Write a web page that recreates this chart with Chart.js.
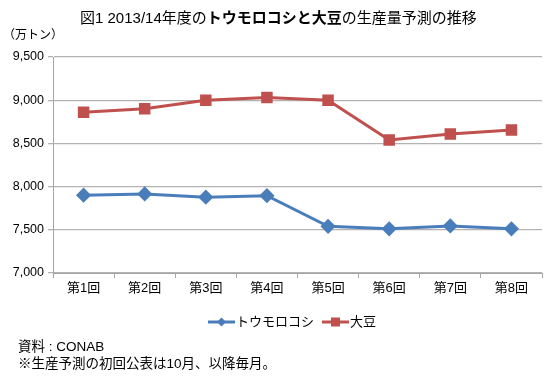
<!DOCTYPE html>
<html><head><meta charset="utf-8">
<script src="https://cdn.jsdelivr.net/npm/chart.js@4/dist/chart.umd.min.js"></script>
<style>
html,body{margin:0;padding:0;background:#fff;width:557px;height:378px;overflow:hidden;font-family:"Liberation Sans","Noto Sans CJK JP",sans-serif;color:#000}
#wrap{position:absolute;left:0;top:0;width:557px;height:378px}
.t{position:absolute;white-space:nowrap}
</style></head><body>
<div id="wrap"><canvas id="c" width="557" height="378"></canvas></div>
<div class="t" id="title" style="left:80px;top:6px;font-size:15px;">図1 2013/14年度の<b>トウモロコシと大豆</b>の生産量予測の推移</div>
<div class="t" style="left:3px;top:25px;font-size:12px;">（万トン）</div>
<div class="t" style="left:18px;top:335px;font-size:13.5px;">資料 : CONAB</div>
<div class="t" style="left:18px;top:352px;font-size:13.5px;">※生産予測の初回公表は10月、以降毎月。</div>
<script>
const categories = ["第1回","第2回","第3回","第4回","第5回","第6回","第7回","第8回"];
const seriesNames = ["トウモロコシ","大豆"];
const corn = [7900, 7915, 7877, 7895, 7540, 7512, 7545, 7512];
const soy = [8860, 8900, 9000, 9030, 9000, 8540, 8610, 8655];
const yTicks = [7000, 7500, 8000, 8500, 9000, 9500];

const FONT = '"Liberation Sans", "Noto Sans CJK JP", sans-serif';
const legendPlugin = {
  id: 'customLegend',
  afterDraw(chart) {
    const ctx = chart.ctx;
    ctx.save();
    ctx.font = '13px ' + FONT;
    ctx.textBaseline = 'middle';
    const y = 322;
    const items = [{x:208}, {x:322}];
    chart.data.datasets.forEach((ds, i) => {
      const x = items[i].x;
      ctx.strokeStyle = ds.borderColor;
      ctx.lineWidth = 3;
      ctx.beginPath(); ctx.moveTo(x, y); ctx.lineTo(x + 27, y); ctx.stroke();
      ctx.fillStyle = ds.borderColor;
      const cx = x + 13.5;
      if (ds.pointStyle === 'rectRot') {
        ctx.beginPath(); ctx.moveTo(cx, y-4.5); ctx.lineTo(cx+4.5, y); ctx.lineTo(cx, y+4.5); ctx.lineTo(cx-4.5, y); ctx.closePath(); ctx.fill();
      } else {
        ctx.fillRect(cx-4.5, y-4.5, 9, 9);
      }
      ctx.fillStyle = '#000';
      ctx.fillText(ds.label, x + 28, y);
    });
    ctx.restore();
  }
};

new Chart(document.getElementById('c'), {
  type: 'line',
  data: {
    labels: categories,
    datasets: [
      {label: seriesNames[0], data: corn, borderColor: '#4a7ebb', backgroundColor: '#4a7ebb', borderWidth: 3,
       pointStyle: 'rectRot', pointRadius: 5.5, pointHoverRadius: 5.5, tension: 0},
      {label: seriesNames[1], data: soy, borderColor: '#c0504d', backgroundColor: '#c0504d', borderWidth: 3,
       pointStyle: 'rect', pointRadius: 6, pointHoverRadius: 6, tension: 0}
    ]
  },
  plugins: [legendPlugin],
  options: {
    responsive: false, animation: false,
    layout: {padding: {left: 0, right: 15, top: 57, bottom: 0}},
    plugins: {legend: {display: false}, title: {display: false}, tooltip: {enabled: false}},
    scales: {
      x: {
        offset: true,
        grid: {offset: true, drawOnChartArea: false, drawTicks: true, tickLength: 5, color: '#a6a6a6'},
        border: {color: '#a6a6a6', width: 1},
        ticks: {color: '#000', font: {family: FONT, size: 13}, padding: 3, maxRotation: 0},
        afterFit(s) { s.height = 105; }
      },
      y: {
        min: 7000, max: 9500,
        afterBuildTicks(s) { s.ticks = yTicks.map(v => ({value: v})); },
        grid: {color: '#b3b3b3', lineWidth: 1.3, drawTicks: true, tickLength: 5},
        border: {color: '#a6a6a6', width: 1},
        ticks: {color: '#000', font: {family: FONT, size: 12.5}, padding: 4,
                callback: v => v.toLocaleString('en-US')},
        afterFit(s) { s.width = 53; }
      }
    }
  }
});
</script>
</body></html>
